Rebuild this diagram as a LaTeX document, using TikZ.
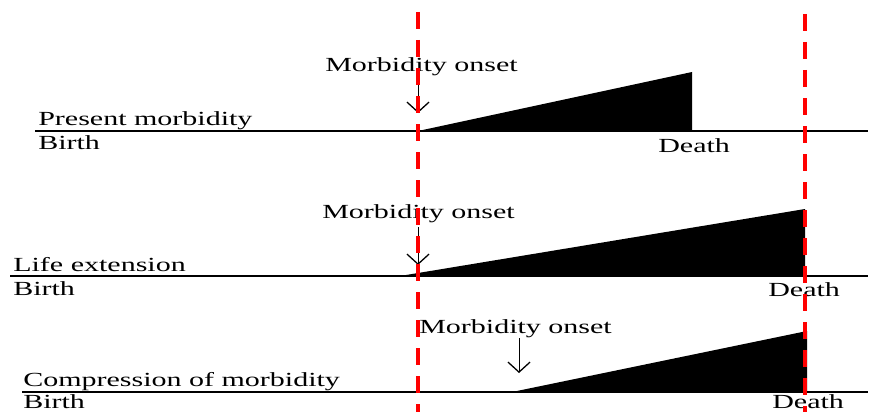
\documentclass[tikz,border=0pt]{standalone}
\usepackage{fontspec}
\setmainfont{Liberation Serif}
\usetikzlibrary{arrows.meta,calc}
\definecolor{LimitClr}{rgb}{1,0,0}

\tikzset{
  txt/.style={font=\fontsize{20}{22}\selectfont, anchor=base west, inner sep=0pt, xscale=1.5, transform shape},
  axis/.style={line width=1.6pt, black},
  onset/.style={line width=1pt, -{Straight Barb[length=10pt,width=22pt,line width=1.3pt]}},
  limit/.style={line width=4.5pt, LimitClr, dash pattern=on 17pt off 11pt}
}

\begin{document}
\begin{tikzpicture}[x=1pt,y=-1pt]
\useasboundingbox (0,0) rectangle (870,412);

% present morbidity
\coordinate (A1) at (35,131);  \coordinate (B1) at (868,131);
\coordinate (O1) at (418,131); \coordinate (D1) at (692,131);
\fill (O1) -- (692,72) -- (D1) -- cycle;
\draw[axis] (A1) -- (B1);
\node[txt] (P1) at (38,125) {Present morbidity};
\node[txt] (Bi1) at (38,149) {Birth};
\node[txt] (De1) at (658,152) {Death};
\node[txt] (M1) at (325,71) {Morbidity onset};
\coordinate (S1) at (418,78); \coordinate (T1) at (418,113);
\draw[onset] (S1) -- (T1);

% life extension
\coordinate (A2) at (10,276);  \coordinate (B2) at (868,276);
\coordinate (O2) at (400,276); \coordinate (D2) at (805,276);
\fill (O2) -- (805,209) -- (D2) -- cycle;
\draw[axis] (A2) -- (B2);
\node[txt] (P2) at (13,271) {Life extension};
\node[txt] (Bi2) at (13,295) {Birth};
\node[txt] (De2) at (768,296) {Death};
\node[txt] (M2) at (322,218) {Morbidity onset};
\coordinate (S2) at (418,227); \coordinate (T2) at (418,265);
\draw[onset] (S2) -- (T2);

% compression of morbidity
\coordinate (A3) at (22,392);  \coordinate (B3) at (868,392);
\coordinate (O3) at (512,392); \coordinate (D3) at (807,392);
\fill (O3) -- (807,331) -- (D3) -- cycle;
\draw[axis] (A3) -- (B3);
\node[txt] (P3) at (23,386) {Compression of morbidity};
\node[txt] (Bi3) at (23,408) {Birth};
\node[txt] (De3) at (772,408) {Death};
\node[txt] (M3) at (419,333) {Morbidity onset};
\coordinate (S3) at (519,338); \coordinate (T3) at (519,373);
\draw[onset] (S3) -- (T3);

% limits
\coordinate (L1) at (418,12);  \coordinate (L2) at (418,412);
\coordinate (R1) at (805,14);  \coordinate (R2) at (805,412);
\draw[limit] (L1) -- (L2);
\draw[limit] (R1) -- (R2);

\end{tikzpicture}
\end{document}
